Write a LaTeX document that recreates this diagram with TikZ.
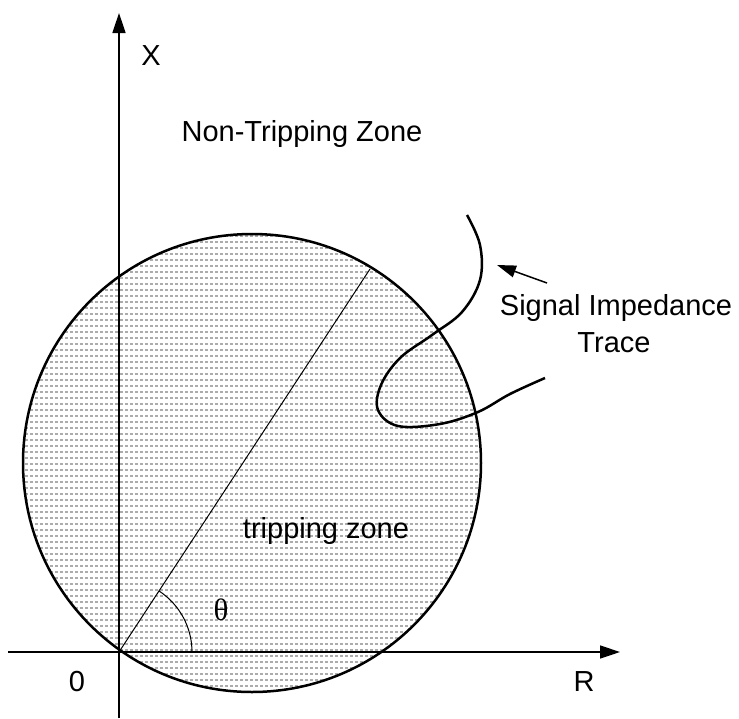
\documentclass[tikz,border=0pt]{standalone}
\usepackage{fontspec}
\setmainfont{Liberation Sans}
\newfontfamily\grserif{Liberation Serif}
\usetikzlibrary{arrows.meta}
\begin{document}
\begin{tikzpicture}[x=1pt,y=-1pt,
  lbl/.style={font=\fontsize{29}{35}\selectfont, inner sep=0pt, anchor=base},
  axisline/.style={line width=1.5pt, -{Triangle[length=20pt,width=13pt]}},
  pointer/.style={line width=1.5pt, -{Triangle[length=19pt,width=12pt]}},
  zoneline/.style={line width=2.5pt},
  traceline/.style={line width=2.5pt},
  thinline/.style={line width=1pt},
  hatch/.style={gray!65, line width=1.1pt, dash pattern=on 3pt off 2pt}]
\useasboundingbox (0,0) rectangle (739,718);
% points
\coordinate (O) at (119,652);
\coordinate (C) at (252,463);
\coordinate (D) at (370,269);
\coordinate (Xtop) at (119,13);
\coordinate (Xbot) at (119,718);
\coordinate (Rleft) at (8,652);
\coordinate (Rright) at (620,652);
\coordinate (Ptail) at (547,283);
\coordinate (Ptip) at (497,265);
% hatched tripping zone
\begin{scope}
  \clip (C) circle (229);
  \foreach \yy in {236,242,...,694} {
    \draw[hatch] (20,\yy) -- (490,\yy);
  }
\end{scope}
\draw[zoneline] (C) circle (229);
% axes
\draw[axisline] (Xbot) -- (Xtop);
\draw[axisline] (Rleft) -- (Rright);
% diameter and angle
\draw[thinline] (O) -- (D);
\draw[thinline] (192,652) arc[start angle=0, end angle=-56.6, radius=73];
% trace
\draw[traceline] plot[smooth, tension=0.6] coordinates {
  (467,215) (480,245) (480,280) (462,312) (432,335) (400,358)
  (381,385) (378,410) (398,426) (440,424) (478,412) (510,394) (545,378)};
% pointer arrow
\draw[pointer] (Ptail) -- (Ptip);
% labels
\node[lbl] (lx) at (151,65) {X};
\node[lbl] (lnt) at (302,141) {Non-Tripping Zone};
\node[lbl] (ls1) at (616,315) {Signal Impedance};
\node[lbl] (ls2) at (614,352) {Trace};
\node[lbl] (ltz) at (326,538) {tripping zone};
\node[lbl, font=\grserif\fontsize{31}{36}\selectfont] (lth) at (221,620) {θ};
\node[lbl] (l0) at (77,691) {0};
\node[lbl] (lr) at (584,691) {R};
\end{tikzpicture}
\end{document}
